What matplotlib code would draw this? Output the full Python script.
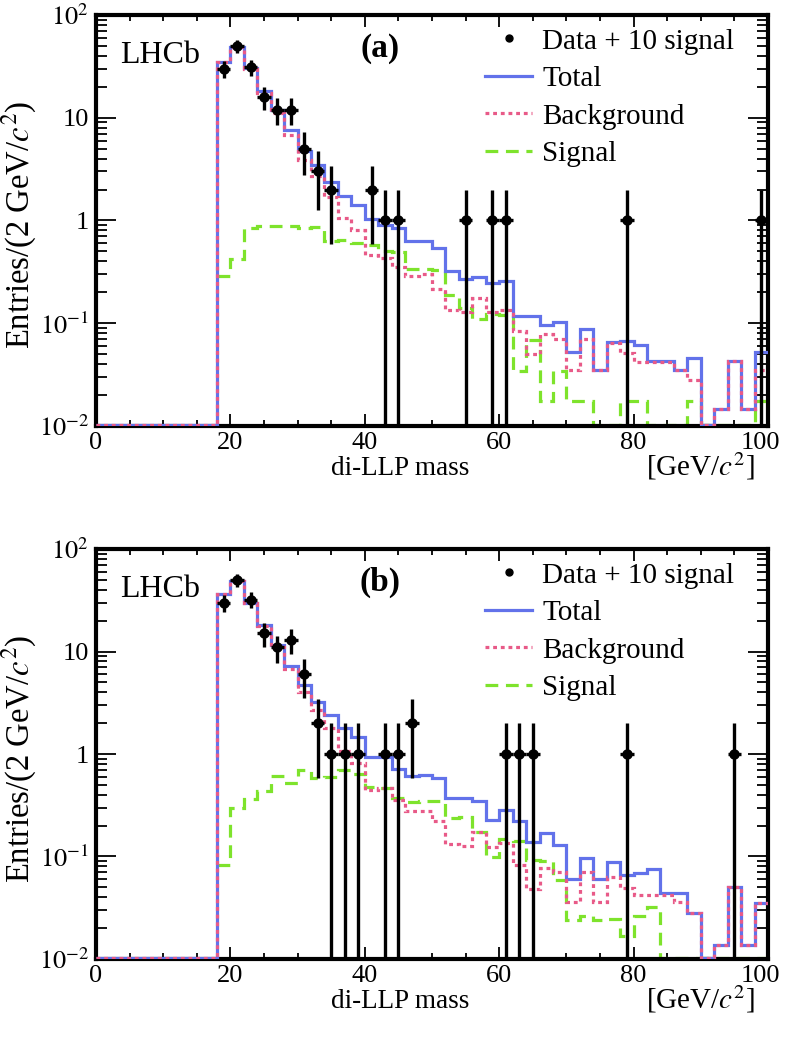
import numpy as np
import matplotlib
matplotlib.use('Agg')
import matplotlib.pyplot as plt
from matplotlib.lines import Line2D
from matplotlib.transforms import ScaledTranslation
from matplotlib.ticker import MultipleLocator, LogLocator, FuncFormatter, NullFormatter

plt.rcParams['font.family'] = ['Liberation Serif', 'DejaVu Serif']
plt.rcParams['mathtext.fontset'] = 'stix'

# 2 GeV bins from 0 to 100; everything below 18 GeV is empty
EDGES = np.arange(0, 102, 2)
N_EMPTY = 9

# panel (a): bins 18-20 ... 98-100
total_a = [35.2, 49, 30.4, 18.3, 12.0, 7.6, 4.7, 3.5, 2.35, 1.72, 1.40, 1.04, 0.90, 0.84,
           0.63, 0.63, 0.54, 0.32, 0.27, 0.28, 0.245, 0.26, 0.118, 0.118, 0.096, 0.103,
           0.053, 0.087, 0.035, 0.065, 0.067, 0.061, 0.043, 0.043, 0.035, 0.046, 0,
           0.0146, 0.043, 0.0146, 0.053]
bkg_a = [34.9, 48.6, 29.5, 17.4, 11.1, 6.8, 3.9, 2.7, 1.7, 1.06, 0.81, 0.46, 0.43, 0.355,
         0.29, 0.30, 0.217, 0.134, 0.129, 0.178, 0.128, 0.135, 0.084, 0.050, 0.078, 0.070,
         0.035, 0.071, 0.035, 0.064, 0.051, 0.042, 0.042, 0.042, 0.035, 0.028, 0,
         0.0146, 0.043, 0.0146, 0.035]
sig_a = [0.29, 0.425, 0.85, 0.89, 0.89, 0.89, 0.84, 0.87, 0.63, 0.64, 0.61, 0.575, 0.50,
         0.49, 0.34, 0.34, 0.33, 0.19, 0.142, 0.109, 0.122, 0.12, 0.034, 0.069, 0.0176,
         0.034, 0.0176, 0.0176, 0, 0, 0.0176, 0.0176, 0, 0, 0, 0.0176, 0, 0, 0, 0, 0.0176]
data_a_x = [19, 21, 23, 25, 27, 29, 31, 33, 35, 41, 43, 45, 55, 59, 61, 79, 99]
data_a_y = [30, 50, 31, 16, 12, 12, 5, 3, 2, 2, 1, 1, 1, 1, 1, 1, 1]

# panel (b)
total_b = [36.1, 49, 29.9, 18.1, 11.6, 7.2, 4.7, 3.25, 2.4, 1.78, 1.46, 0.94, 0.94, 0.72,
           0.61, 0.62, 0.58, 0.375, 0.375, 0.348, 0.227, 0.284, 0.224, 0.14, 0.168, 0.129,
           0.060, 0.096, 0.060, 0.088, 0.066, 0.0686, 0.075, 0.0437, 0.0437, 0.028, 0,
           0.0137, 0.050, 0.0137, 0.035]
bkg_b = [36.0, 48.7, 29.5, 17.7, 11.0, 6.7, 4.0, 2.7, 1.8, 1.06, 0.81, 0.45, 0.47, 0.355,
         0.28, 0.28, 0.22, 0.132, 0.128, 0.175, 0.125, 0.135, 0.083, 0.048, 0.077, 0.070,
         0.036, 0.070, 0.036, 0.0635, 0.049, 0.042, 0.042, 0.042, 0.036, 0.028, 0,
         0.0137, 0.050, 0.0137, 0.035]
sig_b = [0.083, 0.295, 0.361, 0.44, 0.61, 0.525, 0.70, 0.58, 0.59, 0.70, 0.64, 0.48, 0.47,
         0.37, 0.34, 0.35, 0.35, 0.24, 0.245, 0.173, 0.0995, 0.149, 0.141, 0.092, 0.091,
         0.059, 0.024, 0.026, 0.024, 0.0245, 0.0166, 0.026, 0.032, 0, 0, 0, 0, 0, 0, 0, 0]
data_b_x = [19, 21, 23, 25, 27, 29, 31, 33, 35, 37, 39, 43, 45, 47, 61, 63, 65, 79, 95]
data_b_y = [30, 50, 32, 15, 11, 13, 6, 2, 1, 1, 1, 1, 1, 2, 1, 1, 1, 1, 1]

C_TOTAL = '#6272ea'
C_BKG = '#e85a88'
C_SIG = '#7ee32c'
FLOOR = 0.0102  # empty bins are drawn on the lower frame, like ROOT does

LOG_LABELS = {0.01: r'$10^{-2}$', 0.1: r'$10^{-1}$', 1: '1', 10: '10', 100: r'$10^{2}$'}


def full(vals):
    return np.concatenate([np.zeros(N_EMPTY), np.asarray(vals, float)])


def fmt_log(v, pos):
    for k, s in LOG_LABELS.items():
        if abs(v - k) < 1e-9 * max(k, 1):
            return s
    return ''


def draw_panel(fig, ax, total, bkg, sig, dx, dy, tag):
    ax.set_yscale('log')
    tot = np.maximum(full(total), FLOOR)
    bk = np.maximum(full(bkg), FLOOR)
    sg = np.maximum(np.asarray(sig, float), FLOOR)

    ax.stairs(sg, EDGES[N_EMPTY:], baseline=None, color=C_SIG, lw=2.3,
              ls=(0, (4, 2.4)), zorder=2)
    ax.stairs(tot, EDGES, baseline=None, color=C_TOTAL, lw=2.3, zorder=3)
    ax.stairs(bk, EDGES, baseline=None, color=C_BKG, lw=2.3,
              ls=(0, (1.2, 1.2)), zorder=4)

    dy = np.asarray(dy, float)
    err = np.sqrt(dy)
    lo = np.minimum(err, dy - 1e-4)
    ax.errorbar(dx, dy, yerr=[lo, err], xerr=1, fmt='o', color='k', ms=6.5,
                elinewidth=2.4, capsize=0, zorder=5)

    ax.set_xlim(0, 100)
    ax.set_ylim(1e-2, 1e2)
    ax.xaxis.set_major_locator(MultipleLocator(20))
    ax.xaxis.set_minor_locator(MultipleLocator(5))
    ax.yaxis.set_major_locator(LogLocator(base=10, numticks=10))
    ax.yaxis.set_minor_locator(LogLocator(base=10, subs=np.arange(2, 10), numticks=20))
    ax.yaxis.set_major_formatter(FuncFormatter(fmt_log))
    ax.yaxis.set_minor_formatter(NullFormatter())

    ax.tick_params(which='both', direction='in', top=True, right=True, width=1.3)
    ax.tick_params(axis='x', which='major', length=8.6, labelsize=19, pad=4)
    ax.tick_params(axis='x', which='minor', length=4.5)
    ax.tick_params(axis='y', which='major', length=14.5, labelsize=19, pad=5)
    ax.tick_params(axis='y', which='minor', length=8)
    for s in ax.spines.values():
        s.set_linewidth(3)

    # the "100" label sits a little inside the right edge
    locs = list(ax.xaxis.get_majorticklocs())
    ticks = ax.xaxis.get_major_ticks(len(locs))
    last = ticks[int(np.argmin(np.abs(np.array(locs) - 100)))].label1
    last.set_transform(last.get_transform() + ScaledTranslation(-0.08, 0, fig.dpi_scale_trans))

    ax.text(0.036, 0.884, 'LHCb', transform=ax.transAxes, fontsize=23,
            ha='left', va='baseline')
    ax.text(0.423, 0.898, tag, transform=ax.transAxes, fontsize=24,
            fontweight='bold', ha='center', va='baseline')
    ax.text(0.452, -0.103, 'di-LLP mass', transform=ax.transAxes, fontsize=19.5,
            ha='center', va='center')
    ax.text(0.98, -0.097, r'[GeV/$c^2$]', transform=ax.transAxes, fontsize=21,
            ha='right', va='center')
    ax.text(-0.114, 0.489, r'Entries/(2 GeV/$c^2$)', transform=ax.transAxes,
            fontsize=23.5, rotation=90, ha='center', va='center')

    handles = [Line2D([], [], marker='o', color='k', ls='none', ms=5),
               Line2D([], [], color=C_TOTAL, lw=2.3),
               Line2D([], [], color=C_BKG, lw=2.3, ls=(0, (1.2, 1.2))),
               Line2D([], [], color=C_SIG, lw=2.3, ls=(0, (4, 2.4)))]
    labels = ['Data + 10 signal', 'Total', 'Background', 'Signal']
    ax.legend(handles, labels, loc='upper left', bbox_to_anchor=(0.575, 0.975),
              frameon=False, fontsize=21, handlelength=1.6, handletextpad=0.35,
              labelspacing=0.38, borderpad=0.1, borderaxespad=0)


fig = plt.figure(figsize=(7.86, 10.39), dpi=100)
ax_a = fig.add_axes([0.1221, 0.5900, 0.855, 0.3956])
ax_b = fig.add_axes([0.1221, 0.0770, 0.855, 0.3946])

draw_panel(fig, ax_a, total_a, bkg_a, sig_a, data_a_x, data_a_y, '(a)')
draw_panel(fig, ax_b, total_b, bkg_b, sig_b, data_b_x, data_b_y, '(b)')

fig.savefig('out.png', dpi=100)
